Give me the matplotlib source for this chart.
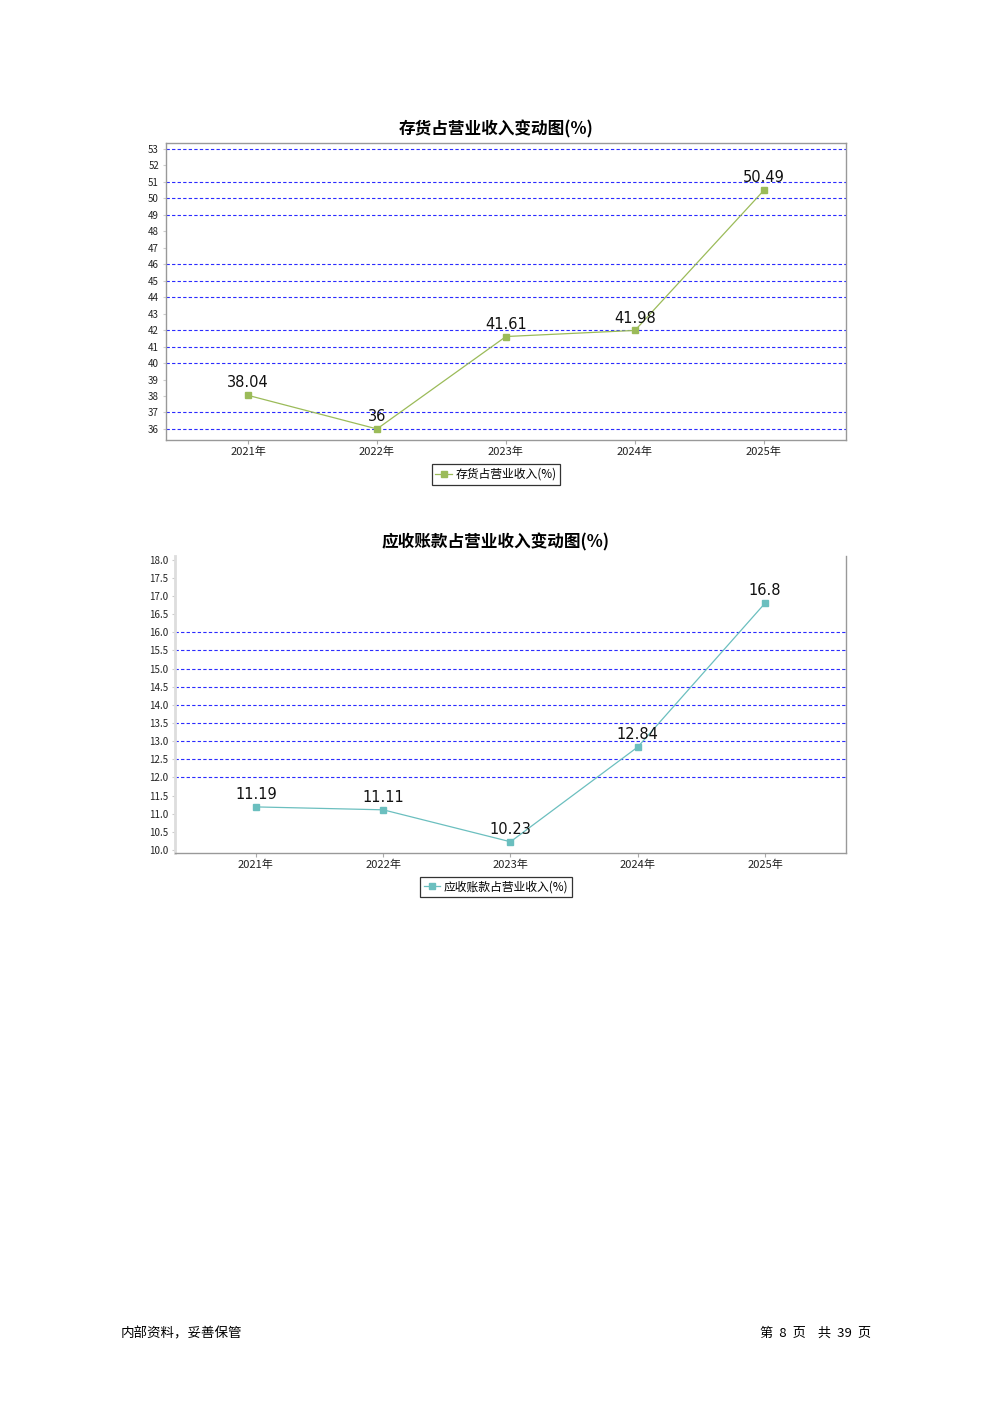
import matplotlib
matplotlib.use('Agg')
import matplotlib.pyplot as plt
import numpy as np

plt.rcParams['font.family'] = ['Noto Sans CJK SC', 'DejaVu Sans']

# data
years = ['2021年', '2022年', '2023年', '2024年', '2025年']
inventory = [38.04, 36, 41.61, 41.98, 50.49]
inventory_labels = ['38.04', '36', '41.61', '41.98', '50.49']
receivable = [11.19, 11.11, 10.23, 12.84, 16.8]
receivable_labels = ['11.19', '11.11', '10.23', '12.84', '16.8']

inv_ticks = list(range(36, 54))
rec_ticks = [10.0 + 0.5 * i for i in range(17)]
# grid lines that actually show up in the original render
inv_grid = [53, 51, 50, 49, 46, 45, 44, 42, 41, 40, 37, 36]
rec_grid = [16.0, 15.5, 15.0, 14.5, 14.0, 13.5, 13.0, 12.5, 12.0]

fig = plt.figure(figsize=(9.92, 14.03), dpi=100)


def draw(ax, values, labels, ticks, grid, ylim, color, title, title_y,
         legend_name, legend_y, fmt):
    x = np.arange(len(years))
    for g in grid:
        ax.axhline(g, color='#2b2bff', lw=0.8, ls=(0, (3, 2)), zorder=1)
    line, = ax.plot(x, values, color=color, lw=0.9, marker='s', markersize=5,
                    markeredgecolor=color, label=legend_name, zorder=3)
    for xi, v, lab in zip(x, values, labels):
        ax.annotate(lab, (xi, v), xytext=(0, 3.5), textcoords='offset points',
                    ha='center', va='bottom', fontsize=10.5, color='#111111',
                    family='DejaVu Sans', zorder=4)
    ax.set_xlim(-0.636, len(years) - 1 + 0.636)
    ax.set_ylim(*ylim)
    ax.set_xticks(x)
    ax.set_xticklabels(years, fontsize=8, color='#222222')
    ax.set_yticks(ticks)
    ax.set_yticklabels([fmt.format(t) for t in ticks], fontsize=7, color='#222222')
    ax.tick_params(axis='x', length=3, color='#aaaaaa', pad=2)
    ax.tick_params(axis='y', length=2, color='#cccccc', pad=3)
    fig.text(0.5, title_y, title, fontsize=12, fontweight='bold',
             ha='center', va='center')
    leg = fig.legend(handles=[line], loc='center',
                     bbox_to_anchor=(0.5, legend_y),
                     fontsize=8.5, frameon=True, fancybox=False,
                     handlelength=1.4, borderpad=0.3, handletextpad=0.3)
    leg.get_frame().set_edgecolor('black')
    leg.get_frame().set_linewidth(0.9)
    for s in ax.spines.values():
        s.set_color('#999999')
        s.set_linewidth(1)


ax1 = fig.add_axes([0.1673, 0.6864, 0.6855, 0.2117])
draw(ax1, inventory, inventory_labels, inv_ticks, inv_grid, (35.33, 53.36),
     '#9bbb59', '存货占营业收入变动图(%)', 1 - 129 / 1403,
     '存货占营业收入(%)', 1 - 474.5 / 1403, '{:d}')

ax2 = fig.add_axes([0.1764, 0.3920, 0.6764, 0.2117])
draw(ax2, receivable, receivable_labels, rec_ticks, rec_grid, (9.92, 18.1),
     '#6bbfbf', '应收账款占营业收入变动图(%)', 1 - 542 / 1403,
     '应收账款占营业收入(%)', 1 - 887 / 1403, '{:.1f}')
ax2.spines['top'].set_visible(False)
ax2.spines['left'].set_color('#dddddd')
ax2.spines['left'].set_linewidth(2)

# footer
fig.text(121 / 992, 1 - 1333 / 1403, '内部资料，妥善保管', fontsize=9.7,
         ha='left', va='center')
fig.text(871 / 992, 1 - 1333 / 1403, '第  8  页    共  39  页', fontsize=9.5,
         ha='right', va='center')

fig.savefig('out.png', dpi=100)
plt.close(fig)
